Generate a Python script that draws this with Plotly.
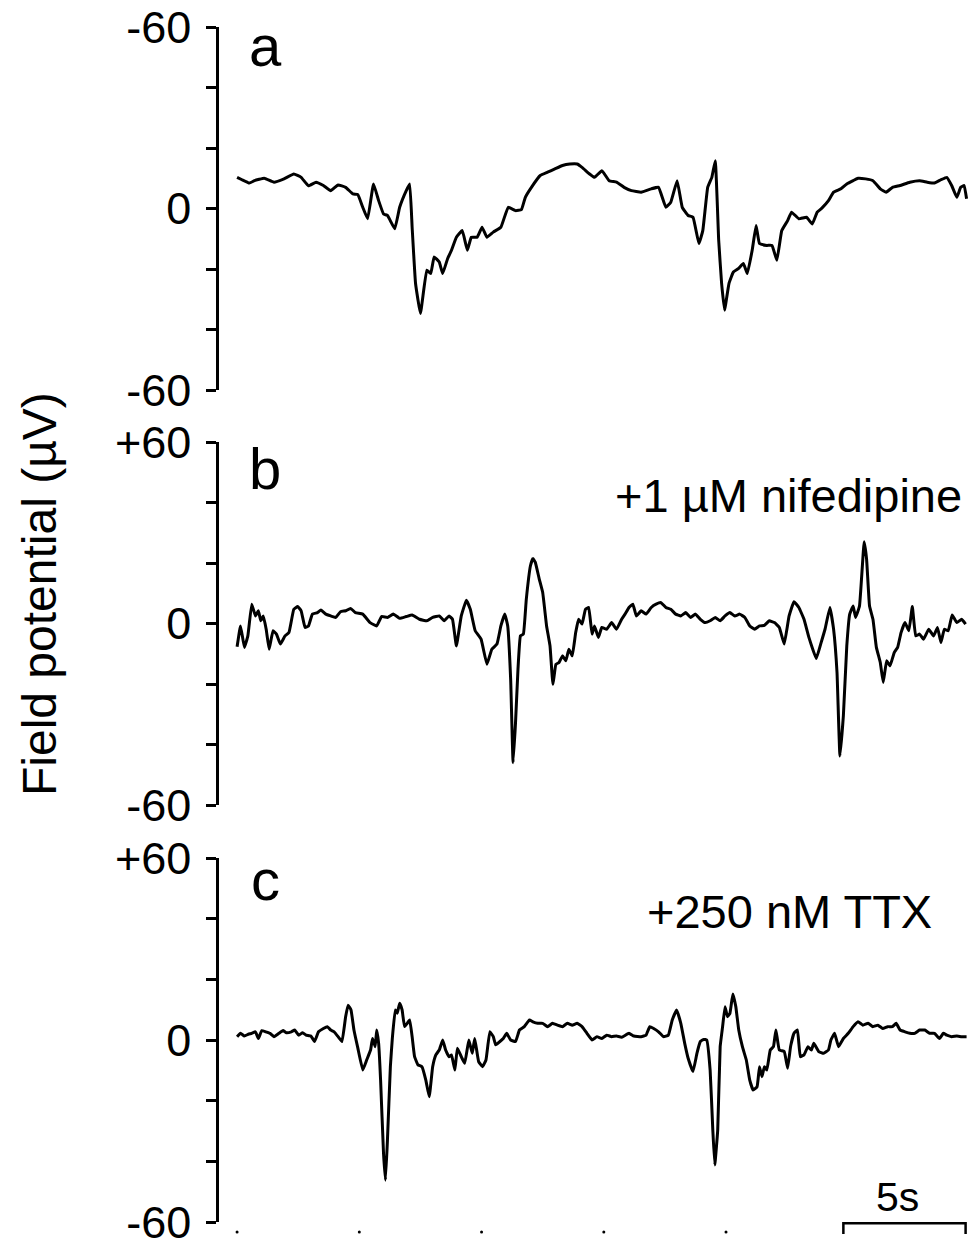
import plotly.graph_objects as go

# ---------------- data (time in s, field potential in µV) ----------------
t_a = [0.00, 0.20, 0.50, 0.71, 1.11, 1.51, 1.92, 2.32, 2.62, 2.92, 3.23, 3.53, 3.83, 4.13, 4.44, 4.74, 4.94,
       5.14, 5.34, 5.58, 5.79, 5.99, 6.15, 6.45, 6.65, 6.92, 7.06, 7.16, 7.30, 7.50, 7.76, 7.92, 8.06, 8.27,
       8.41, 8.61, 8.77, 8.97, 9.21, 9.42, 9.58, 9.82, 10.02, 10.22, 10.48, 10.79, 11.09, 11.39, 11.63, 11.79,
       12.04, 12.40, 12.70, 13.00, 13.31, 13.61, 13.91, 14.11, 14.42, 14.62, 14.92, 15.22, 15.52, 15.83, 16.13,
       16.53, 16.94, 17.24, 17.54, 17.74, 18.00, 18.21, 18.45, 18.65, 18.89, 19.05, 19.25, 19.42, 19.56, 19.70,
       19.82, 19.94, 20.12, 20.30, 20.50, 20.71, 20.87, 21.07, 21.23, 21.37, 21.67, 21.88, 22.08, 22.28, 22.52,
       22.68, 22.98, 23.29, 23.53, 23.73, 23.93, 24.19, 24.40, 24.70, 24.94, 25.20, 25.40, 25.71, 26.01, 26.31,
       26.55, 26.81, 27.12, 27.52, 27.92, 28.23, 28.53, 28.79, 29.03, 29.23, 29.44, 29.60, 29.74, 29.84]
v_a = [10.3, 9.5, 8.4, 9.2, 10.0, 8.7, 9.8, 11.4, 10.3, 7.5, 8.7, 7.6, 5.9, 7.8, 7.0, 4.8, 4.6,
       0.4, -3.4, 8.1, 2.6, -1.8, -2.3, -6.7, 0.4, 5.9, 8.1, -6.2, -24.8, -34.7, -20.4, -21.5, -16.0, -17.7,
       -21.5, -16.6, -13.8, -9.5, -7.3, -13.8, -9.5, -9.5, -6.2, -9.5, -7.8, -6.2, 0.4, -0.7, -0.4, 3.7,
       7.0, 10.9, 12.0, 13.1, 14.2, 14.7, 14.7, 13.6, 11.4, 10.3, 12.5, 9.2, 8.7, 7.0, 5.9,
       5.4, 6.5, 7.0, 0.4, 2.1, 9.2, 0.4, -2.3, -2.9, -11.6, -7.3, 7.0, 10.3, 15.8, -10.5,
       -24.8, -33.6, -24.8, -21.0, -19.9, -18.2, -21.5, -13.8, -5.6, -11.6, -12.2, -12.2, -17.1, -7.3, -4.0,
       -1.2, -3.4, -2.9, -5.1, -1.2, 0.2, 2.6, 5.4, 6.5, 8.1, 9.2, 10.0, 9.8, 9.2, 6.5,
       5.4, 7.0, 7.6, 8.7, 9.2, 8.7, 8.4, 9.5, 10.3, 7.6, 3.7, 7.0, 7.6, 3.2]

t_b = [0.00, 0.14, 0.30, 0.44, 0.60, 0.75, 0.87, 0.97, 1.07, 1.19, 1.31, 1.47, 1.61, 1.77, 1.96, 2.12, 2.32,
       2.48, 2.62, 2.78, 2.92, 3.08, 3.29, 3.43, 3.63, 3.83, 4.03, 4.23, 4.44, 4.64, 4.84, 5.14, 5.44, 5.71,
       5.91, 6.15, 6.39, 6.65, 6.92, 7.16, 7.46, 7.76, 8.00, 8.27, 8.47, 8.67, 8.81, 8.97, 9.17, 9.38, 9.54,
       9.74, 9.98, 10.22, 10.42, 10.63, 10.79, 10.95, 11.07, 11.19, 11.29, 11.39, 11.49, 11.59, 11.71, 11.83,
       12.00, 12.10, 12.20, 12.36, 12.50, 12.66, 12.80, 12.92, 13.04, 13.17, 13.31, 13.45, 13.57, 13.71, 13.85,
       13.97, 14.11, 14.25, 14.38, 14.52, 14.62, 14.78, 14.92, 15.12, 15.32, 15.52, 15.73, 15.87, 16.03, 16.19,
       16.33, 16.53, 16.73, 16.94, 17.14, 17.34, 17.54, 17.74, 17.94, 18.15, 18.35, 18.55, 18.75, 18.95, 19.15,
       19.35, 19.56, 19.76, 19.96, 20.16, 20.36, 20.56, 20.77, 20.97, 21.17, 21.37, 21.57, 21.77, 21.98, 22.18,
       22.38, 22.58, 22.78, 22.98, 23.19, 23.39, 23.69, 23.89, 24.05, 24.25, 24.40, 24.54, 24.66, 24.80, 24.94,
       25.06, 25.20, 25.30, 25.46, 25.65, 25.75, 25.87, 26.01, 26.15, 26.31, 26.43, 26.57, 26.71, 26.88, 27.02,
       27.16, 27.32, 27.48, 27.62, 27.76, 27.92, 28.08, 28.29, 28.49, 28.65, 28.79, 28.93, 29.09, 29.25, 29.44,
       29.64, 29.80]
v_b = [-7.7, -0.8, -7.9, -4.1, 6.4, 2.5, 4.2, 0.9, 2.5, -1.9, -8.5, -2.4, -3.5, -6.8, -4.1, -3.0, 4.7,
       5.6, 4.2, -1.3, -0.8, 3.1, 3.6, 4.5, 3.1, 2.5, 2.0, 3.9, 4.2, 5.0, 3.6, 3.1, 0.3, -0.8,
       2.3, 2.0, 3.1, 1.7, 2.3, 2.8, 1.4, 0.9, 2.0, 2.5, 0.9, 2.5, 1.4, -7.4, 2.5, 7.7, 4.7,
       -2.4, -5.2, -13.5, -8.5, -6.8, -0.8, 3.1, -0.8, -18.4, -46.0, -32.7, -15.1, -4.1, -3.5, 8.0,
       19.1, 21.5, 20.2, 14.7, 10.3, -0.8, -7.4, -20.1, -13.5, -12.9, -10.7, -12.3, -8.5, -10.7, -3.0,
       1.4, -0.2, 4.7, 5.3, -3.5, -0.8, -4.6, -1.3, -1.9, 0.3, -1.9, 1.4, 3.1, 5.3, 6.4,
       2.5, 4.2, 3.1, 5.3, 6.4, 6.9, 5.3, 4.7, 3.1, 2.5, 3.6, 2.0, 3.1, 1.4, 0.3,
       0.9, 2.0, 0.9, 2.5, 3.6, 2.5, 3.1, 2.0, -0.8, -1.9, -0.8, -0.6, 0.9, 0.3, -1.3,
       -6.8, 2.5, 7.2, 5.3, 1.4, -4.6, -11.6, -6.3, -1.9, 5.3, -1.9, -16.2, -43.8, -30.5, -7.4,
       3.1, 5.8, 2.0, 5.8, 27.0, 21.3, 5.8, 1.4, -7.9, -12.9, -19.5, -12.3, -14.0, -9.6, -7.9,
       -3.0, 0.3, -2.4, 5.6, -4.1, -3.5, -5.2, -1.9, -4.1, -1.3, -6.3, -1.9, -2.4, 2.8, 0.3,
       1.4, -0.2]

t_c = [0.00, 0.14, 0.30, 0.46, 0.60, 0.75, 0.87, 1.01, 1.17, 1.35, 1.51, 1.71, 1.88, 2.02, 2.22, 2.36, 2.52,
       2.68, 2.82, 3.02, 3.17, 3.33, 3.53, 3.69, 3.83, 3.97, 4.13, 4.29, 4.44, 4.54, 4.66, 4.78, 4.94, 5.14,
       5.30, 5.46, 5.54, 5.65, 5.71, 5.79, 5.87, 5.99, 6.07, 6.15, 6.27, 6.35, 6.47, 6.55, 6.65, 6.75, 6.85,
       6.96, 7.06, 7.16, 7.26, 7.40, 7.56, 7.72, 7.86, 8.00, 8.13, 8.27, 8.41, 8.53, 8.67, 8.77, 8.91, 9.01,
       9.17, 9.31, 9.48, 9.62, 9.72, 9.88, 10.04, 10.18, 10.34, 10.48, 10.58, 10.75, 10.89, 11.03, 11.19, 11.39,
       11.55, 11.75, 11.96, 12.10, 12.30, 12.50, 12.70, 12.90, 13.10, 13.31, 13.51, 13.71, 13.91, 14.11, 14.31,
       14.52, 14.72, 14.92, 15.12, 15.32, 15.52, 15.73, 16.03, 16.23, 16.53, 16.73, 16.88, 17.04, 17.24, 17.44,
       17.64, 17.80, 17.98, 18.15, 18.31, 18.45, 18.65, 18.81, 18.95, 19.09, 19.21, 19.35, 19.46, 19.54, 19.66,
       19.76, 19.86, 19.96, 20.06, 20.16, 20.28, 20.40, 20.52, 20.67, 20.83, 20.97, 21.11, 21.27, 21.37, 21.47,
       21.57, 21.67, 21.81, 21.94, 22.04, 22.18, 22.38, 22.52, 22.64, 22.78, 22.92, 23.04, 23.19, 23.35, 23.49,
       23.59, 23.79, 23.99, 24.19, 24.29, 24.44, 24.60, 24.80, 25.00, 25.20, 25.40, 25.60, 25.81, 26.01, 26.21,
       26.41, 26.61, 26.81, 26.96, 27.12, 27.32, 27.52, 27.72, 27.92, 28.13, 28.33, 28.53, 28.73, 28.89, 29.03,
       29.23, 29.44, 29.64, 29.84]
v_c = [1.1, 2.2, 1.3, 1.9, 2.2, 2.7, 0.5, 3.1, 2.7, 2.2, 1.1, 2.2, 3.1, 2.4, 2.7, 3.3, 1.6,
       2.4, 1.6, 1.3, -0.5, 2.7, 3.8, 4.4, 3.3, 2.7, 1.1, -0.5, 7.7, 11.5, 9.9, 3.3, -2.7, -9.9,
       -6.6, -3.3, 0.5, -2.2, 3.3, -1.1, -13.2, -37.4, -46.2, -33.0, -8.8, 0.5, 9.9, 8.8, 12.1, 9.9, 4.4,
       5.5, 6.6, 1.1, -5.5, -8.2, -8.8, -13.2, -18.7, -8.8, -4.9, -3.3, 0.0, -3.3, -5.5, -4.9, -9.9, -2.7,
       -5.5, -7.7, 0.0, -4.4, 0.5, -7.1, -8.8, -6.6, 2.7, 1.1, -1.6, -0.5, 0.5, 2.2, 0.0, -0.5,
       3.3, 4.4, 6.6, 6.0, 5.5, 5.5, 4.4, 5.5, 4.9, 4.4, 5.5, 4.9, 5.5, 4.4, 2.2,
       0.0, 1.1, 0.5, 1.6, 1.1, 1.3, 0.9, 2.2, 1.3, 1.1, 1.6, 4.4, 3.8, 2.7, 1.1,
       1.6, 6.6, 9.9, 5.5, -1.1, -6.0, -10.4, -4.4, -0.5, 0.2, 0.0, -9.9, -29.7, -41.2, -29.7,
       -2.2, 4.4, 11.0, 7.7, 8.8, 15.2, 11.0, 3.3, -2.2, -6.6, -13.2, -16.5, -15.4, -8.8, -12.1,
       -8.8, -9.9, -3.3, -2.2, 3.3, -3.3, -3.8, -9.3, -2.2, 2.2, 3.3, -5.5, -4.9, -2.2, -3.3,
       -1.1, -3.8, -4.4, -3.3, 0.0, 2.2, -2.2, 0.5, 2.2, 4.4, 6.0, 4.9, 5.5, 4.4, 4.9,
       3.8, 4.4, 4.4, 5.5, 3.3, 2.7, 2.2, 2.2, 3.3, 3.3, 2.2, 2.2, 0.5, 2.2, 1.6,
       1.1, 1.3, 1.1, 1.1]

y_tickvals = [-60, -40, -20, 0, 20, 40, 60]
ticktext_a = ["-60", "", "", "0", "", "", "-60"]
ticktext_b = ["-60", "", "", "0", "", "", "+60"]
ticktext_c = ["-60", "", "", "0", "", "", "+60"]

panel_letters = ["a", "b", "c"]
drug_labels = ["", "+1 µM nifedipine", "+250 nM TTX"]
y_title = "Field potential (µV)"

time_marks = [0, 5, 10, 15, 20]          # small dots under the bottom trace
scale_start, scale_len = 24.8, 5.0       # 5 s scale bar
scale_label = "5s"

# ---------------- figure ----------------
FONT = "Arial, 'Liberation Sans', Helvetica, sans-serif"
W, H = 970, 1242
ML = 219
x_range = [-0.74, 29.98]
PX_PER_UV = 3.03

domains = [
    [1 - 390 / H, 1 - 27 / H],
    [1 - 805 / H, 1 - 442 / H],
    [1 - 1222 / H, 1 - 858 / H],
]
# overlay strip at the bottom for the time marks and the scale bar (same µV scale as panel c)
strip_top_px = 1150
strip_domain = [0, 1 - strip_top_px / H]
strip_range = [-60 - (H - 1222) / PX_PER_UV, -60 + (1222 - strip_top_px) / PX_PER_UV]

fig = go.Figure()
traces = [(t_a, v_a), (t_b, v_b), (t_c, v_c)]
for i, (tt, vv) in enumerate(traces):
    sfx = "" if i == 0 else str(i + 1)
    fig.add_trace(go.Scatter(x=tt, y=vv, mode="lines",
                             line=dict(color="black", width=3, shape="spline", smoothing=0.3),
                             xaxis="x" + sfx, yaxis="y" + sfx, showlegend=False,
                             hoverinfo="skip"))

# time dots under bottom trace
fig.add_trace(go.Scatter(x=time_marks, y=[-63.3] * len(time_marks), mode="markers",
                         marker=dict(color="black", size=3), xaxis="x4", yaxis="y4",
                         cliponaxis=False, showlegend=False, hoverinfo="skip"))
# scale bar
fig.add_trace(go.Scatter(x=[scale_start, scale_start, scale_start + scale_len, scale_start + scale_len],
                         y=[-64.0, -60.4, -60.4, -64.0], mode="lines",
                         line=dict(color="black", width=2.5), xaxis="x4", yaxis="y4",
                         cliponaxis=False, showlegend=False, hoverinfo="skip"))

layout = dict(
    width=W, height=H,
    margin=dict(l=ML, r=0, t=0, b=0, pad=0),
    paper_bgcolor="white", plot_bgcolor="rgba(0,0,0,0)",
    font=dict(family=FONT, color="black"),
    showlegend=False,
)
ticktexts = [ticktext_a, ticktext_b, ticktext_c]
for i in range(3):
    sfx = "" if i == 0 else str(i + 1)
    layout["xaxis" + sfx] = dict(domain=[0, 1], range=x_range, visible=False,
                                 anchor="y" + sfx, fixedrange=True, automargin=False)
    layout["yaxis" + sfx] = dict(domain=domains[i], range=[-60, 60], anchor="x" + sfx,
                                 tickvals=y_tickvals, ticktext=ticktexts[i],
                                 ticks="outside", ticklen=10, tickwidth=2.5, tickcolor="black",
                                 showline=True, linecolor="black", linewidth=2.5,
                                 showgrid=False, zeroline=False, automargin=False,
                                 ticklabeloverflow="allow",
                                 tickfont=dict(size=45, family=FONT, color="black"),
                                 ticklabelstandoff=6, fixedrange=True)
layout["xaxis4"] = dict(domain=[0, 1], range=x_range, visible=False, anchor="y4",
                        fixedrange=True, automargin=False)
layout["yaxis4"] = dict(domain=strip_domain, range=strip_range, visible=False, anchor="x4",
                        fixedrange=True, automargin=False)

annotations = []
letter_pos = [(1.15, 53.8), (1.15, 51.2), (1.15, 52.8)]
for i in range(3):
    sfx = "" if i == 0 else str(i + 1)
    annotations.append(dict(text=panel_letters[i], x=letter_pos[i][0], y=letter_pos[i][1],
                            xref="x" + sfx, yref="y" + sfx, showarrow=False,
                            font=dict(size=58, family=FONT, color="black"),
                            xanchor="center", yanchor="middle"))
annotations.append(dict(text=drug_labels[1], x=29.72, y=42.2, xref="x2", yref="y2", showarrow=False,
                        font=dict(size=47, family=FONT, color="black"), xanchor="right", yanchor="middle"))
annotations.append(dict(text=drug_labels[2], x=22.6, y=42.2, xref="x3", yref="y3", showarrow=False,
                        font=dict(size=47, family=FONT, color="black"), xanchor="center", yanchor="middle"))
annotations.append(dict(text=scale_label, x=27.0, y=-51.6, xref="x4", yref="y4",
                        showarrow=False, font=dict(size=41, family=FONT, color="black"),
                        xanchor="center", yanchor="middle"))
annotations.append(dict(text=y_title, x=(39 - ML) / (W - ML), y=1 - 594 / H, xref="paper", yref="paper",
                        textangle=-90, showarrow=False, font=dict(size=48, family=FONT, color="black"),
                        xanchor="center", yanchor="middle"))
layout["annotations"] = annotations

fig.update_layout(**layout)
fig.write_html("out.html", config={"displayModeBar": False},
               post_script="document.body.style.margin='0';")
